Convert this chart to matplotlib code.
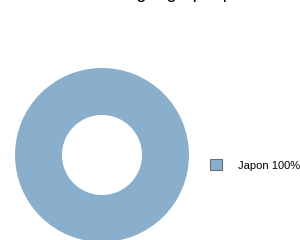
import matplotlib
matplotlib.use("Agg")
import matplotlib.pyplot as plt

plt.rcParams['font.family'] = ['Liberation Sans', 'DejaVu Sans']

# data
title = "Localisation géographique"
countries = ["Japon"]
shares = [100]
colors = ["#8aafcd"]

W, H = 300, 240
cx, cy, r = 102, 155, 87  # donut centre and radius in pixels

fig = plt.figure(figsize=(W / 100, H / 100), dpi=100)
ax = fig.add_axes([0, 0, 1, 1])
ax.axis('off')

wedges, _ = ax.pie(shares, colors=colors, radius=1, startangle=90,
                   counterclock=False,
                   wedgeprops=dict(width=0.54, linewidth=0))
ax.set_xlim(-cx / r, (W - cx) / r)
ax.set_ylim(-(H - cy) / r, cy / r)
ax.set_aspect('equal')

labels = [f"{c} {s}%" for c, s in zip(countries, shares)]
leg = fig.legend(wedges, labels, loc='center left',
                 bbox_to_anchor=(210 / W, 1 - 165 / H),
                 frameon=False, fontsize=8, borderpad=0, borderaxespad=0,
                 handlelength=1.05, handleheight=1.1, handletextpad=1.5)
for p in leg.get_patches():
    p.set_edgecolor('#6e6e6e')
    p.set_linewidth(0.8)

# title sits mostly above the canvas, only descenders show
fig.text(0.47, 1 + 1.5 / H, title, ha='center', va='baseline', fontsize=13)

plt.savefig("out.png", dpi=100)
